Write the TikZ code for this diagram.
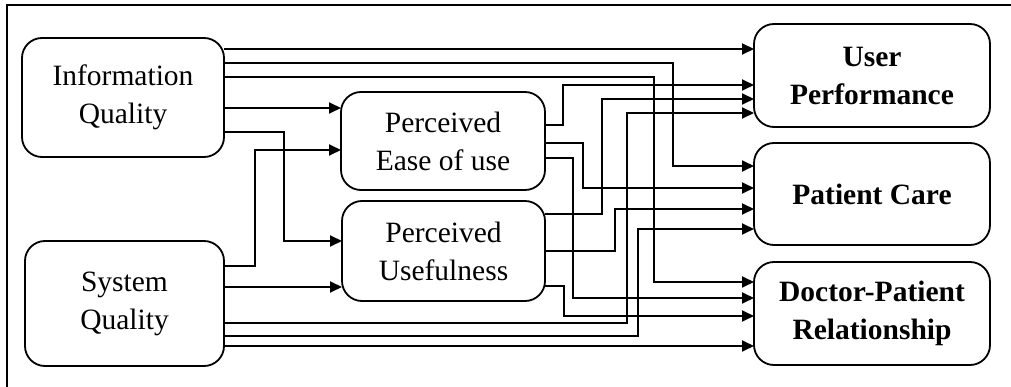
\documentclass[tikz,border=0pt]{standalone}
\usepackage{fontspec}
\setmainfont{Liberation Serif}
\usetikzlibrary{arrows.meta}
\begin{document}
\begin{tikzpicture}[x=1pt,y=-1pt,
  box/.style={draw, line width=1.8pt, rounded corners=20pt, align=center,
    inner sep=0pt, outer sep=0pt, font=\fontsize{29.5}{38}\selectfont},
  outbox/.style={box, font=\fontsize{29.5}{38}\selectfont\bfseries},
  conn/.style={line width=1.8pt, -{Triangle[length=12pt,width=11pt]}}]
\useasboundingbox (0,0) rectangle (1011,387);

% outer frame (open at the right and bottom)
\draw[line width=1.4pt] (1011,5) -- (7,5) -- (7,387);

% constructs
\node[box, minimum width=202pt, minimum height=119pt] (iq) at (123,97.5) {Information\\Quality};
\node[box, minimum width=199pt, minimum height=125pt] (sq) at (124.5,303.5) {System\\Quality};
\node[box, minimum width=204pt, minimum height=98pt] (peu) at (443,141) {Perceived\\Ease of use};
\node[box, minimum width=203pt, minimum height=100pt] (pu) at (443.5,251) {Perceived\\Usefulness};
\node[outbox, minimum width=236pt, minimum height=103pt] (up) at (872,75.5) {User\\Performance};
\node[outbox, minimum width=236pt, minimum height=102pt] (pc) at (872,194) {Patient Care};
\node[outbox, minimum width=236pt, minimum height=103pt] (dpr) at (872,313.5) {Doctor-Patient\\Relationship};

% Information Quality
\draw[conn] (iq.east |- 0,49) -- (up.west |- 0,49);
\draw[conn] (iq.east |- 0,63) -| (673,166) -- (pc.west |- 0,166);
\draw[conn] (iq.east |- 0,77) -| (654,282) -- (dpr.west |- 0,282);
\draw[conn] (iq.east |- 0,108) -- (peu.west |- 0,108);
\draw[conn] (iq.east |- 0,132) -| (284,241) -- (pu.west |- 0,241);

% System Quality
\draw[conn] (sq.east |- 0,266) -| (255,150) -- (peu.west |- 0,150);
\draw[conn] (sq.east |- 0,287) -- (pu.west |- 0,287);
\draw[conn] (sq.east |- 0,323) -| (627,113) -- (up.west |- 0,113);
\draw[conn] (sq.east |- 0,336) -| (638,229) -- (pc.west |- 0,229);
\draw[conn] (sq.east |- 0,346) -- (dpr.west |- 0,346);

% Perceived Ease of use
\draw[conn] (peu.east |- 0,125) -| (563,85) -- (up.west |- 0,85);
\draw[conn] (peu.east |- 0,143) -| (583,188) -- (pc.west |- 0,188);
\draw[conn] (peu.east |- 0,158) -| (573,298) -- (dpr.west |- 0,298);

% Perceived Usefulness
\draw[conn] (pu.east |- 0,214) -| (602,99) -- (up.west |- 0,99);
\draw[conn] (pu.east |- 0,251) -| (615,209) -- (pc.west |- 0,209);
\draw[conn] (pu.east |- 0,286) -| (564,316) -- (dpr.west |- 0,316);
\end{tikzpicture}
\end{document}
